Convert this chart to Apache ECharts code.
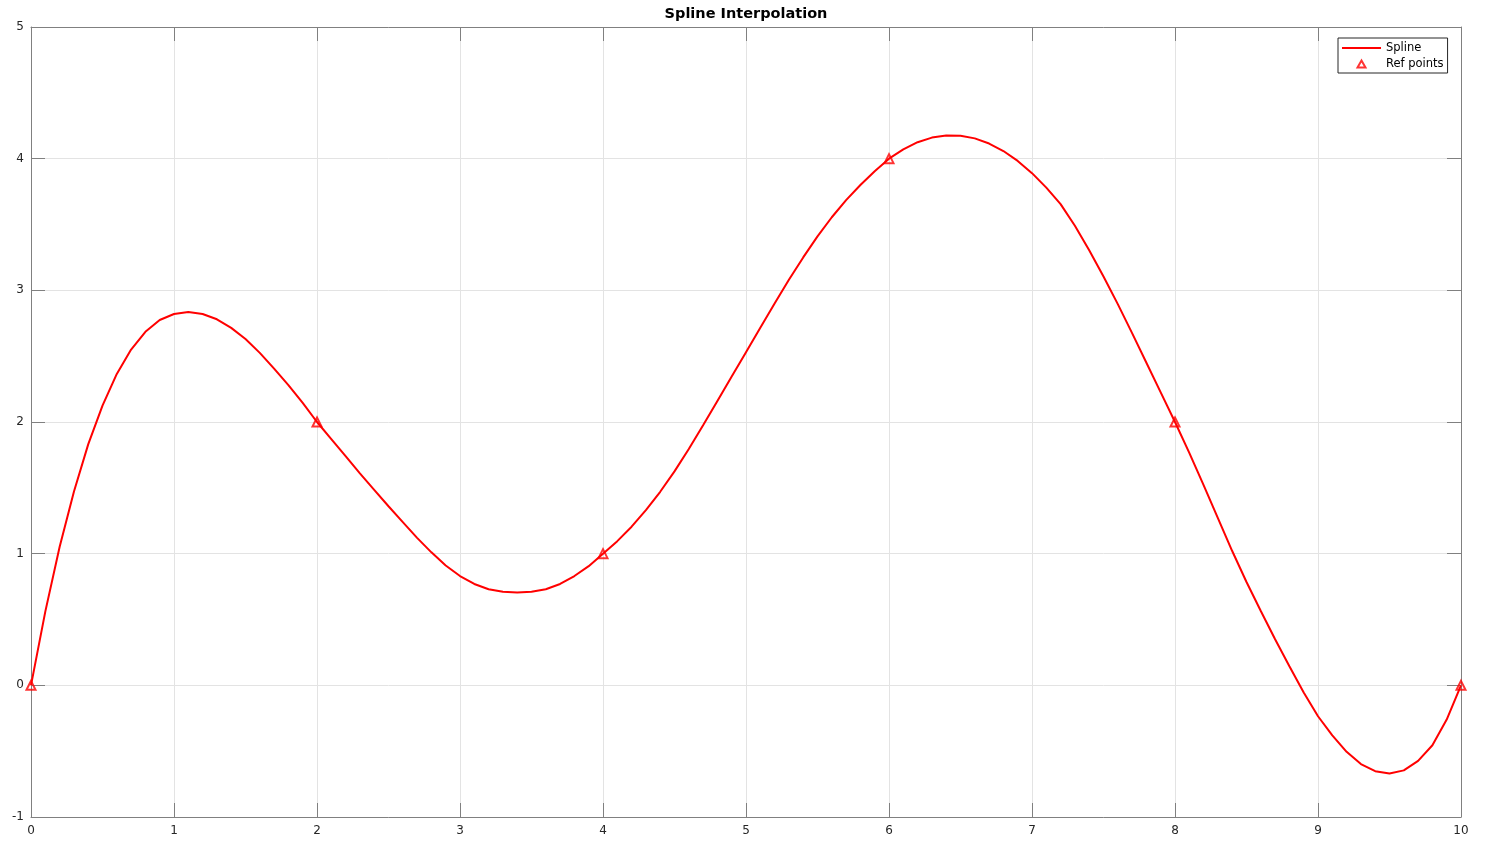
<!DOCTYPE html>
<html>
<head>
<meta charset="utf-8">
<script src="https://cdn.jsdelivr.net/npm/echarts@6/dist/echarts.min.js"></script>
<style>
html,body{margin:0;padding:0;background:#fff;}
#chart{width:1488px;height:854px;}
</style>
</head>
<body>
<div id="chart"></div>
<script>
// ---- data ----
const titleText = 'Spline Interpolation';
const splineName = 'Spline';
const refName = 'Ref points';

const splineX = [
  0.0,0.1,0.2,0.3,0.4,0.5,0.6,0.7,0.8,0.9,
  1.0,1.1,1.2,1.3,1.4,1.5,1.6,1.7,1.8,1.9,
  2.0,2.1,2.2,2.3,2.4,2.5,2.6,2.7,2.8,2.9,
  3.0,3.1,3.2,3.3,3.4,3.5,3.6,3.7,3.8,3.9,
  4.0,4.1,4.2,4.3,4.4,4.5,4.6,4.7,4.8,4.9,
  5.0,5.1,5.2,5.3,5.4,5.5,5.6,5.7,5.8,5.9,
  6.0,6.1,6.2,6.3,6.4,6.5,6.6,6.7,6.8,6.9,
  7.0,7.1,7.2,7.3,7.4,7.5,7.6,7.7,7.8,7.9,
  8.0,8.1,8.2,8.3,8.4,8.5,8.6,8.7,8.8,8.9,
  9.0,9.1,9.2,9.3,9.4,9.5,9.6,9.7,9.8,9.9,
  10.0
];
const splineY = [
  0.000,0.560,1.050,1.470,1.830,2.125,2.365,2.550,2.685,2.775,
  2.820,2.835,2.820,2.780,2.715,2.630,2.525,2.405,2.280,2.145,
  2.000,1.870,1.740,1.610,1.485,1.360,1.240,1.120,1.010,0.910,
  0.830,0.770,0.730,0.710,0.705,0.710,0.730,0.770,0.830,0.905,
  1.000,1.095,1.205,1.330,1.470,1.625,1.795,1.975,2.160,2.345,
  2.530,2.715,2.900,3.080,3.250,3.410,3.555,3.685,3.800,3.905,
  4.000,4.070,4.125,4.160,4.176,4.174,4.154,4.115,4.058,3.983,
  3.890,3.780,3.655,3.490,3.305,3.105,2.895,2.675,2.450,2.225,
  2.000,1.765,1.520,1.270,1.020,0.785,0.565,0.350,0.145,-0.055,
  -0.235,-0.380,-0.505,-0.598,-0.652,-0.670,-0.646,-0.574,-0.455,-0.260,
  0.000
];
const refX = [0, 2, 4, 6, 8, 10];
const refY = [0, 2, 1, 4, 2, 0];

const xMin = 0, xMax = 10, xStep = 1;
const yMin = -1, yMax = 5, yStep = 1;

// ---- chart ----
const FONT = 'DejaVu Sans';
const AX = '#808080';
const GRIDC = '#e3e3e3';
const RED = '#ff0000';
const chart = echarts.init(document.getElementById('chart'), null, {renderer: 'canvas'});

const splineData = splineX.map((x, i) => [x, splineY[i]]);
const refData = refX.map((x, i) => [x, refY[i]]);

function axisBase(extra) {
  return Object.assign({
    type: 'value',
    axisLine: {show: true, onZero: false, lineStyle: {color: AX, width: 1}},
    axisTick: {show: true, inside: true, length: 14, lineStyle: {color: AX, width: 1}},
    splitLine: {show: false},
    axisLabel: {show: false}
  }, extra);
}

// small triangle icon placed in the middle of the 39x9 legend icon box
const triIcon = 'path://M0,0 M39,9 M15.5,8 L19.5,1 L23.5,8 Z';

chart.setOption({
  animation: false,
  backgroundColor: '#ffffff',
  title: {
    text: titleText,
    left: 741, top: 2, textAlign: 'center',
    textStyle: {fontFamily: FONT, fontSize: 14.5, fontWeight: 'bold', color: '#000'}
  },
  legend: {
    orient: 'vertical',
    left: 1338, top: 38,
    padding: [4, 4, 3, 3],
    itemWidth: 39, itemHeight: 9, itemGap: 4,
    backgroundColor: '#fff',
    borderColor: '#262626', borderWidth: 1,
    textStyle: {fontFamily: FONT, fontSize: 11.5, color: '#000'},
    data: [
      {name: splineName, itemStyle: {color: 'rgba(0,0,0,0)', borderColor: 'rgba(0,0,0,0)', borderWidth: 0}},
      {name: refName, icon: triIcon}
    ]
  },
  grid: {left: 31, right: 27, top: 27, bottom: 37, containLabel: false},
  xAxis: [
    axisBase({
      position: 'bottom', min: xMin, max: xMax, interval: xStep,
      axisLabel: {show: true, margin: 8, fontFamily: FONT, fontSize: 12, color: '#262626'},
      splitLine: {show: true, lineStyle: {color: GRIDC, width: 1}}
    }),
    axisBase({position: 'top', min: xMin, max: xMax, interval: xStep})
  ],
  yAxis: [
    axisBase({
      position: 'left', min: yMin, max: yMax, interval: yStep,
      axisLabel: {show: true, margin: 7, fontFamily: FONT, fontSize: 12, color: '#262626'},
      splitLine: {show: true, lineStyle: {color: GRIDC, width: 1}}
    }),
    axisBase({position: 'right', min: yMin, max: yMax, interval: yStep})
  ],
  series: [
    {
      name: splineName, type: 'line', data: splineData,
      xAxisIndex: 0, yAxisIndex: 0,
      symbol: 'none', smooth: false,
      lineStyle: {color: RED, width: 2},
      itemStyle: {color: RED},
      z: 3
    },
    {
      name: refName, type: 'scatter', data: refData,
      xAxisIndex: 0, yAxisIndex: 0,
      symbol: 'triangle', symbolSize: 9,
      itemStyle: {color: 'rgba(255,255,255,0)', borderColor: RED, borderWidth: 2},
      z: 4
    }
  ]
});
</script>
</body>
</html>
